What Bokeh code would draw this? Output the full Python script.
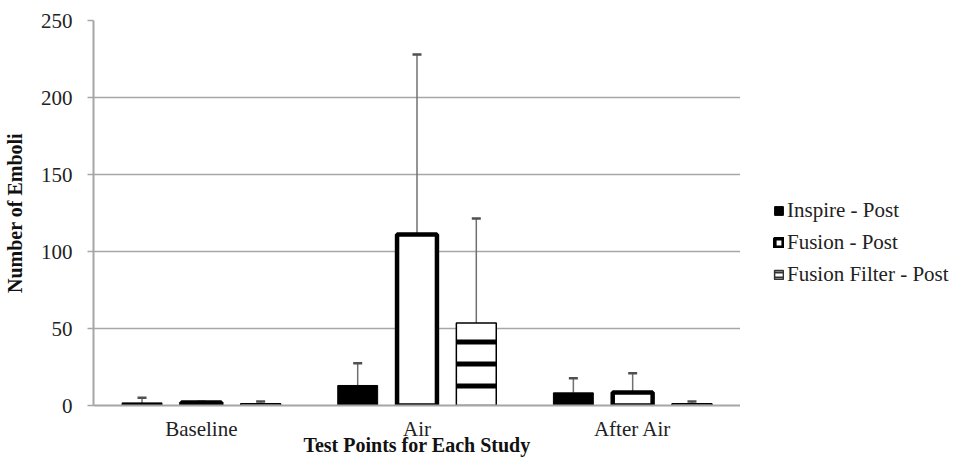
from bokeh.plotting import figure
from bokeh.models import (ColumnDataSource, FactorRange, Range1d, Whisker, TeeHead,
                          Legend, LegendItem)
from bokeh.layouts import row
from bokeh.transform import dodge
from bokeh.embed import file_html
from bokeh.resources import INLINE

categories = ["Baseline", "Air", "After Air"]
series_names = ["Inspire - Post", "Fusion - Post", "Fusion Filter - Post"]
inspire = [1.7, 13.0, 8.2]
inspire_upper = [5.0, 27.5, 17.7]
fusion = [2.0, 111.0, 8.5]
fusion_upper = [2.4, 228.0, 21.0]
fusion_filter = [1.1, 53.5, 1.1]
fusion_filter_upper = [2.6, 121.5, 2.6]
y_ticks = [0, 50, 100, 150, 200, 250]

FONT = "'Liberation Serif', 'Times New Roman', serif"

p = figure(width=740, height=474, x_range=FactorRange(*categories, range_padding=0),
           y_range=Range1d(0, 250), output_backend="svg", toolbar_location=None,
           min_border_left=92, min_border_right=0, min_border_top=20, min_border_bottom=69)
p.outline_line_color = None
p.background_fill_color = "white"
p.border_fill_color = "white"

offsets = [-0.275, 0.0, 0.275]
bar_w = 0.185
vals = [inspire, fusion, fusion_filter]
uppers = [inspire_upper, fusion_upper, fusion_filter_upper]
styles = [
    dict(fill_color="black", line_color="black", line_width=1),
    dict(fill_color="white", line_color="black", line_width=4.5),
    dict(fill_color="white", line_color="black", line_width=1.5,
         hatch_pattern="horizontal_line", hatch_color="black", hatch_weight=5, hatch_scale=22),
]
for i, (v, u) in enumerate(zip(vals, uppers)):
    src = ColumnDataSource(dict(cat=categories, val=v, upper=u))
    x = dodge("cat", offsets[i], range=p.x_range)
    p.vbar(x=x, top="val", width=bar_w, source=src, **styles[i])
    w = Whisker(base=x, lower="val", upper="upper", source=src,
                line_color="#707070", line_width=1.5,
                upper_head=TeeHead(size=9, line_color="#505050", line_width=2.5),
                lower_head=None)
    p.add_layout(w)

# axes
p.yaxis.ticker = y_ticks
p.ygrid.grid_line_color = "#a6a6a6"
p.ygrid.grid_line_width = 1.5
p.xgrid.grid_line_color = None

for ax in (p.xaxis[0], p.yaxis[0]):
    ax.axis_line_color = "#a6a6a6"
    ax.axis_line_width = 2
    ax.major_label_text_font = FONT
    ax.major_label_text_font_size = "21px"
    ax.major_label_text_color = "#222222"
    ax.axis_label_text_font = FONT
    ax.axis_label_text_font_size = "20px"
    ax.axis_label_text_font_style = "bold"
    ax.axis_label_text_color = "#111111"
    ax.minor_tick_line_color = None

p.yaxis.major_tick_line_color = "#a6a6a6"
p.yaxis.major_tick_line_width = 1.5
p.yaxis.major_tick_out = 6
p.yaxis.major_tick_in = 0
p.yaxis.major_label_standoff = 15
p.yaxis.axis_label = "Number of Emboli"
p.yaxis.axis_label_standoff = 12

p.xaxis.major_tick_line_color = None
p.xaxis.major_tick_out = 0
p.xaxis.major_label_standoff = 11
p.xaxis.axis_label = "Test Points for Each Study"
p.xaxis.axis_label_standoff = -10

# legend panel
lp = figure(width=219, height=474, x_range=Range1d(0, 1), y_range=Range1d(0, 1),
            output_backend="svg", toolbar_location=None,
            min_border_left=0, min_border_right=0, min_border_top=0, min_border_bottom=0)
lp.axis.visible = False
lp.grid.visible = False
lp.outline_line_color = None
legend_styles = [
    dict(fill_color="black", line_color="black", line_width=1),
    dict(fill_color="white", line_color="black", line_width=4),
    dict(fill_color="white", line_color="#333333", line_width=1.5,
         hatch_pattern="horizontal_line", hatch_color="#333333", hatch_weight=2, hatch_scale=5),
]
items = []
for name, st in zip(series_names, legend_styles):
    # legend swatch source only: a bar with no drawable height
    r = lp.vbar(x=[0.5], top=[float("nan")], width=0.1, **st)
    items.append(LegendItem(label=name, renderers=[r]))
legend = Legend(items=items, location=(33, 118), orientation="vertical",
                label_text_font=FONT, label_text_font_size="21px", label_text_color="#222222",
                glyph_width=11, glyph_height=11, label_standoff=3, spacing=7,
                padding=0, margin=0, border_line_color=None, background_fill_alpha=0)
lp.add_layout(legend)

layout = row(p, lp, spacing=0)
open("out.html", "w").write(file_html(layout, INLINE))
